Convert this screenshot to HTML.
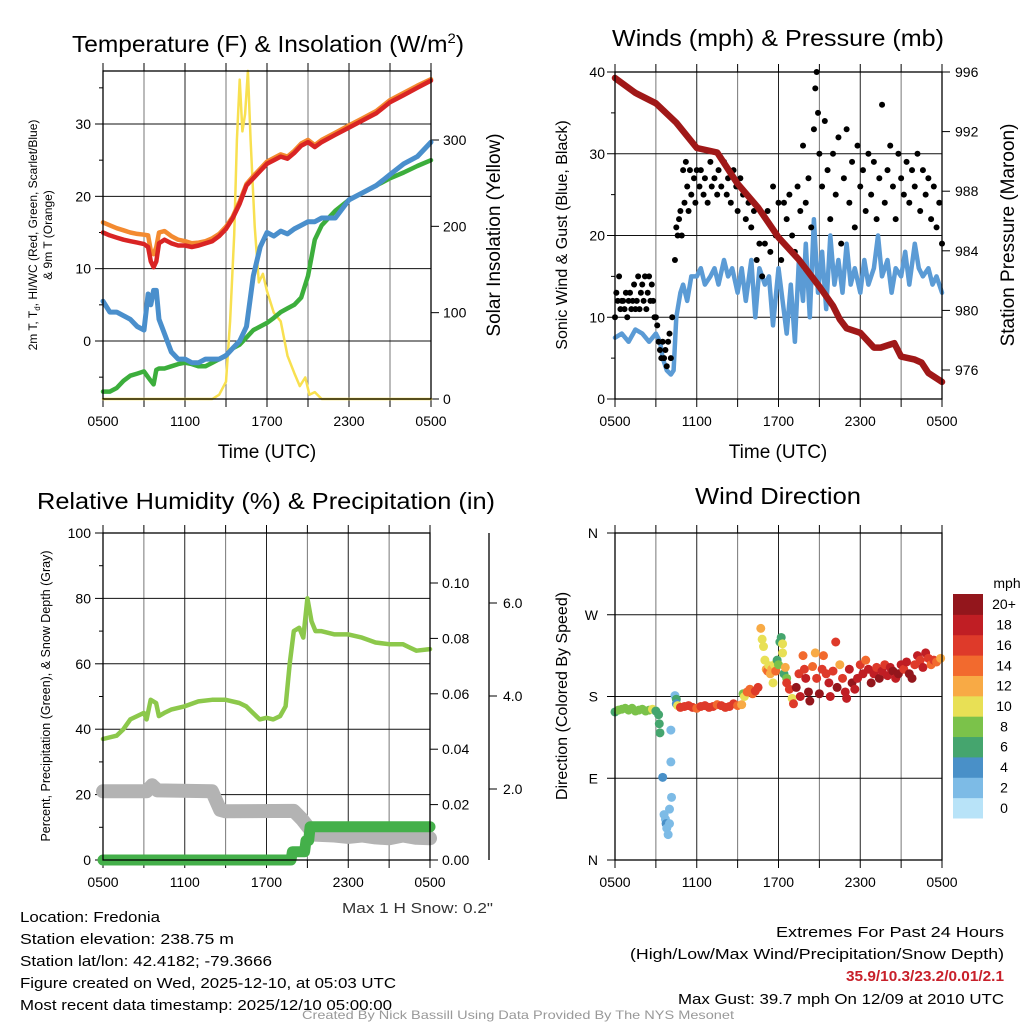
<!DOCTYPE html>
<html><head><meta charset="utf-8"><style>
html,body{margin:0;padding:0;background:#fff;}
svg{display:block;font-family:"Liberation Sans",Arial,sans-serif;}
</style></head><body>
<svg id="s" width="1024" height="1024" viewBox="0 0 1024 1024" xmlns="http://www.w3.org/2000/svg">
<rect width="1024" height="1024" fill="#fff"/>
<g id="g1"></g>
<g id="g2"></g>
<g id="g3"></g>
<g id="g4"></g>

<text x="268" y="52" font-size="23" text-anchor="middle" textLength="392" lengthAdjust="spacingAndGlyphs">Temperature (F) &amp; Insolation (W/m<tspan font-size="14" dy="-9">2</tspan><tspan dy="9">)</tspan></text>
<text x="778" y="46" font-size="23" text-anchor="middle" textLength="332" lengthAdjust="spacingAndGlyphs">Winds (mph) &amp; Pressure (mb)</text>
<text x="266" y="509" font-size="23" text-anchor="middle" textLength="458" lengthAdjust="spacingAndGlyphs">Relative Humidity (%) &amp; Precipitation (in)</text>
<text x="778" y="504" font-size="23" text-anchor="middle" textLength="166" lengthAdjust="spacingAndGlyphs">Wind Direction</text>

<text transform="translate(37,235) rotate(-90)" font-size="12" text-anchor="middle">2m T, T<tspan font-size="8" dy="3">d</tspan><tspan dy="-3">, HI/WC (Red, Green, Scarlet/Blue)</tspan></text>
<text transform="translate(52,235) rotate(-90)" font-size="12" text-anchor="middle">&amp; 9m T (Orange)</text>
<text transform="translate(500,235) rotate(-90)" font-size="19" text-anchor="middle">Solar Insolation (Yellow)</text>
<text x="267" y="458" font-size="19" text-anchor="middle">Time (UTC)</text>
<text transform="translate(567,235) rotate(-90)" font-size="16" text-anchor="middle">Sonic Wind &amp; Gust (Blue, Black)</text>
<text transform="translate(1014,235) rotate(-90)" font-size="19" text-anchor="middle">Station Pressure (Maroon)</text>
<text x="778" y="458" font-size="19" text-anchor="middle">Time (UTC)</text>
<text transform="translate(50,696) rotate(-90)" font-size="12.5" text-anchor="middle">Percent, Precipitation (Green), &amp; Snow Depth (Gray)</text>
<text transform="translate(567,696) rotate(-90)" font-size="16" text-anchor="middle">Direction (Colored By Speed)</text>
<text x="493" y="913" font-size="14.5" text-anchor="end" fill="#333" textLength="151" lengthAdjust="spacingAndGlyphs">Max 1 H Snow: 0.2"</text>

<g font-size="15">
<text x="20" y="922" textLength="140" lengthAdjust="spacingAndGlyphs">Location: Fredonia</text>
<text x="20" y="944" textLength="214" lengthAdjust="spacingAndGlyphs">Station elevation: 238.75 m</text>
<text x="20" y="966" textLength="252" lengthAdjust="spacingAndGlyphs">Station lat/lon: 42.4182; -79.3666</text>
<text x="20" y="988" textLength="376" lengthAdjust="spacingAndGlyphs">Figure created on Wed, 2025-12-10, at 05:03 UTC</text>
<text x="20" y="1010" textLength="372" lengthAdjust="spacingAndGlyphs">Most recent data timestamp: 2025/12/10 05:00:00</text>
</g>
<g font-size="15" text-anchor="end">
<text x="1004" y="937" textLength="228" lengthAdjust="spacingAndGlyphs">Extremes For Past 24 Hours</text>
<text x="1004" y="959" textLength="374" lengthAdjust="spacingAndGlyphs">(High/Low/Max Wind/Precipitation/Snow Depth)</text>
<text x="1004" y="981" fill="#c8202a" font-weight="bold" textLength="158" lengthAdjust="spacingAndGlyphs">35.9/10.3/23.2/0.01/2.1</text>
<text x="1004" y="1004" textLength="326" lengthAdjust="spacingAndGlyphs">Max Gust: 39.7 mph On 12/09 at 2010 UTC</text>
</g>
<text x="518" y="1019" font-size="12" fill="#999" text-anchor="middle" textLength="432" lengthAdjust="spacingAndGlyphs">Created By Nick Bassill Using Data Provided By The NYS Mesonet</text>
</svg>
<script>
// ---------- data ----------
const timeTicks = ["0500","1100","1700","2300","0500"];
// Panel 1
const tempH = [0,0.5,1,1.5,2,2.5,3,3.3,3.5,3.7,3.9,4.1,4.5,5,5.5,6,6.5,7,7.5,8,8.5,9,9.5,10,10.5,11,11.5,12,12.5,13,13.5,14,14.5,15,15.5,16,17,18,19,20,21,22,23,24];
const tempRed = [15,14.6,14.3,14,13.8,13.6,13.4,13,11,10.2,11,13.5,14,13.5,13.2,13.2,13,13.2,13.5,13.8,14.5,15.5,17,19,21.5,22.5,23.5,24.5,25,25.5,25.2,26,27,27.5,26.8,27.5,28.5,29.5,30.5,31.5,33,34,35,36];
const temp9m = [16.4,16,15.6,15.3,15,14.8,14.7,14.6,12.5,12,13,15,15.2,14.5,14,13.8,13.5,13.6,13.8,14.2,14.8,15.8,17.2,19.3,21.7,22.8,23.8,24.8,25.3,25.8,25.5,26.3,27.3,27.8,27.1,27.8,28.8,29.8,30.8,31.8,33.3,34.3,35.3,36.2];
const tempHI = [5.5,4,4,3.5,3,2,1.5,6.5,5,7,7,3,1,-1.5,-2.5,-2.5,-3,-3,-2.5,-2.5,-2.5,-2,-1,0,2,9,13,15,14.5,15.2,14.8,15.5,16,16.5,16.5,17,17,19.5,20.5,21.5,23,24.5,25.5,27.5];
const tempTd = [-7,-7,-6.5,-5.5,-4.8,-4.5,-4.2,-5,-5.5,-6,-4,-3.8,-3.8,-3.5,-3.2,-3,-3.2,-3.5,-3.5,-3,-2.5,-2,-1,-0.5,0.5,1.5,2,2.5,3.2,4,4.5,5,6,9,14,16,18,19.5,20.5,21.5,22.5,23.3,24.2,25];
const solarH = [0,8,8.5,9,9.3,9.6,9.8,10,10.2,10.4,10.6,10.8,11.1,11.4,11.7,12,12.5,13,13.5,14,14.4,14.8,15.1,15.5,16,24];
const solarV = [0,0,5,20,90,190,300,370,310,330,380,300,200,135,145,125,100,90,50,30,15,25,5,8,0,0];
// Panel 2
const presH = [0,1.5,3,4.5,6,7.5,9,10.5,12,13.5,15,16,16.5,17,18,19,19.5,20.5,21,22,22.5,23,24];
const presV = [995.6,994.6,993.9,992.6,990.9,990.6,988.5,986.9,984.9,983.4,981.6,980.3,979.4,978.8,978.5,977.5,977.5,977.8,976.9,976.7,976.5,975.8,975.2];
const windH = [0,0.5,1,1.5,2,2.5,3,3.3,3.5,3.8,4.1,4.3,4.5,4.8,5,5.3,5.6,6,6.3,6.6,7,7.3,7.6,8,8.3,8.6,9,9.3,9.6,10,10.3,10.6,11,11.3,11.6,12,12.3,12.6,12.9,13.2,13.5,13.8,14,14.3,14.6,14.9,15.2,15.5,15.8,16.1,16.4,16.7,17,17.3,17.6,18,18.3,18.6,19,19.3,19.6,20,20.3,20.6,21,21.3,21.6,22,22.3,22.6,23,23.3,23.6,24];
const windV = [7.5,8,7,8.5,8,7,8,7,5,3.5,3,3.5,10,13,14,12,15,15,16,14,15,16,14,17,15,16,13,16,12,17,10,16,14,15,9,16,12,8,14,7,17,12,19,10,22,13,18,11,20,14,17,13,19,14,16,13,17,14,16,20,15,17,13,16,15,18,14,19,16,15,16,14,15,13];
const gustH = [0,0.1,0.2,0.3,0.4,0.5,0.6,0.7,0.8,0.9,1,1.1,1.2,1.3,1.4,1.5,1.6,1.7,1.8,1.9,2,2.1,2.2,2.3,2.4,2.5,2.6,2.7,2.8,2.9,3,3.1,3.2,3.3,3.4,3.5,3.6,3.7,3.8,3.9,4,4.1,4.2,4.4,4.5,4.6,4.7,4.8,4.9,5,5.1,5.2,5.3,5.4,5.5,5.6,5.8,5.9,6,6.2,6.3,6.5,6.6,6.8,7,7.1,7.3,7.5,7.6,7.8,8,8.2,8.3,8.5,8.7,8.9,9,9.2,9.4,9.6,9.8,10,10.2,10.4,10.6,10.8,11,11.2,11.4,11.6,11.8,12,12.2,12.4,12.6,12.8,13,13.2,13.4,13.6,13.8,14,14.2,14.4,14.6,14.7,14.8,14.9,15,15.2,15.4,15.6,15.8,16,16.2,16.4,16.6,16.8,17,17.2,17.4,17.6,17.8,18,18.2,18.4,18.6,18.8,19,19.2,19.4,19.6,19.8,20,20.2,20.4,20.6,20.8,21,21.2,21.4,21.6,21.8,22,22.2,22.4,22.6,22.8,23,23.2,23.4,23.6,23.8,24];
const gustV = [10,13,12,15,11,12,12,11,13,10,12,13,11,12,14,11,12,15,11,13,14,12,15,11,13,15,12,14,12,10,10,9,7,6,5,7,5,6,4,7,8,5,10,17,21,20,22,23,20,28,24,29,26,23,28,25,27,24,28,26,28,25,27,24,29,26,27,25,28,26,29,25,27,24,28,26,23,27,25,22,24,21,23,17,19,15,19,23,18,26,20,24,17,24,22,25,20,18,26,23,31,24,27,21,33,38,40,35,30,26,34,28,22,30,25,32,19,27,33,24,29,21,31,26,28,23,30,25,29,22,27,36,24,28,31,26,22,30,27,25,29,24,28,26,30,23,28,25,27,22,26,21,24,19];
// Panel 3
const rhH = [0,1,1.5,2,3,3.2,3.5,3.9,4.1,4.5,5,6,7,8,9,10,10.5,11,11.5,12,12.5,13,13.4,13.7,14,14.4,14.7,15,15.3,15.6,16,17,18,19,20,21,22,22.5,23,24];
const rhV = [37,38,40,43,45,43,49,48,44,45,46,47,48.5,49,49,48,47,45,43,43.5,43,44,47,60,70,71,68,80,73,70,70,69,69,68,66.5,66,66,65,64,64.5];
const precipH = [0,13.8,13.9,14.8,14.9,15.1,15.2,24];
const precipV = [0,0,0.003,0.003,0.007,0.007,0.012,0.012];
const snowH = [0,3.2,3.6,4.0,8.0,8.6,9.0,14.0,14.6,15.0,15.5,17,18,19,20,21,22,23,24];
const snowV = [1.95,1.95,2.08,1.97,1.95,1.55,1.52,1.53,1.35,1.2,1.02,1.0,0.97,1.0,0.96,0.94,1.0,0.95,0.94];
// Panel 4
const dirH = [0,0.25,0.5,0.75,1,1.25,1.5,1.75,2,2.25,2.5,2.75,3,3.2,3.25,3.3,3.5,3.6,3.7,3.75,3.8,3.9,4,4,4.1,4.1,4.15,4.4,4.5,4.5,4.6,4.8,5.1,5.4,5.7,6,6.3,6.6,6.9,7.2,7.5,7.8,8.1,8.4,8.7,9,9.3,9.4,9.5,9.7,9.9,10.1,10.3,10.5,10.7,10.8,10.9,11,11.1,11.2,11.3,11.4,11.5,11.6,11.7,11.8,11.9,12,12.1,12.2,12.3,12.3,12.4,12.5,12.6,12.6,12.8,13,13.1,13.3,13.5,13.6,13.8,13.9,14,14.2,14.3,14.5,14.7,14.8,15,15.2,15.3,15.5,15.7,15.8,16,16.2,16.3,16.5,16.7,16.9,17,17.2,17.4,17.6,17.8,18,18.2,18.4,18.6,18.8,19,19.2,19.4,19.6,19.8,20,20.2,20.4,20.6,20.8,21,21.2,21.4,21.6,21.8,22,22.2,22.4,22.6,22.8,23,23.2,23.4,23.6,23.9];
const dirDeg = [163,165,166,167,165,167,164,165,166,164,165,166,164,160,150,140,91,50,45,40,35,28,56,40,143,108,69,181,177,172,170,168,169,170,168,167,169,170,168,169,171,170,168,169,172,170,171,183,180,185,188,183,186,190,255,243,235,220,210,208,214,205,210,195,215,208,220,215,240,245,238,228,205,212,200,195,188,178,172,190,205,180,225,210,200,185,175,213,228,200,183,210,225,205,195,180,208,240,190,215,200,185,178,210,195,188,200,215,205,220,210,195,205,212,200,208,215,203,212,208,200,205,215,210,218,205,200,215,225,220,212,228,222,215,220,218,222];
const dirSpd = [7,8,8,8,8,8,8,8,8,8,9,10,7,6,6,6,4,2,2,4,2,2,2,2,2,2,2,2,6,5,10,16,16,17,16,15,16,17,16,16,15,17,16,16,17,14,12,8,10,14,14,15,16,17,12,10,10,10,12,14,10,12,12,10,10,14,6,8,6,6,10,10,6,12,8,16,16,10,16,20,16,18,14,16,18,20,20,14,12,16,20,16,14,16,18,18,16,16,20,12,16,18,18,18,20,18,18,16,18,14,18,20,18,16,20,18,16,18,18,20,18,20,18,16,18,20,20,16,18,16,18,18,16,14,16,14,12];
const dirTicks = ["N","E","S","W","N"];
const speedBins = ["0","2","4","6","8","10","12","14","16","18","20+"];
const binColors = ["#b8e3f8","#7dbbe6","#4990c8","#45a56e","#7bc24a","#e8e055","#f8aa45","#f26a2e","#de3a2a","#c01e24","#93161c"];

// ---------- helpers ----------
const NS="http://www.w3.org/2000/svg";
function mk(tag,attrs,parent){const e=document.createElementNS(NS,tag);for(const k in attrs)e.setAttribute(k,attrs[k]);parent.appendChild(e);return e;}
function lin(d0,d1,r0,r1){return v=>r0+(v-d0)*(r1-r0)/(d1-d0);}
function pathFrom(xs,ys,fx,fy){return xs.map((h,i)=>(i?'L':'M')+fx(h).toFixed(1)+' '+fy(ys[i]).toFixed(1)).join(' ');}

function frame(g,L,R,T,B,fx){
  for(let h=3;h<24;h+=3){
    const l=mk('line',{x1:fx(h),x2:fx(h),y1:T,y2:B,stroke:(h%6?'#777':'#222'),'stroke-width':1},g);
    
    
  }
  for(let h=0;h<=24;h+=3){
    mk('line',{x1:fx(h),x2:fx(h),y1:B,y2:B+8,stroke:'#000'},g);
    mk('line',{x1:fx(h),x2:fx(h),y1:T,y2:T-8,stroke:'#000'},g);
  }
  timeTicks.forEach((t,i)=>{
    const tx=mk('text',{x:fx(i*6),y:B+27,'font-size':14,'text-anchor':'middle'},g);
    tx.textContent=t;
    
    
  });
}
function hgrid(g,L,R,y){const l=mk('line',{x1:L,x2:R,y1:y,y2:y,stroke:'#111'},g);
  
  }
function box(g,L,R,T,B){const r=mk('rect',{x:L,y:T,width:R-L,height:B-T,fill:'none',stroke:'#000','stroke-width':1.3},g);
  
  }
function ylabels(g,vals,fy,x,anchor,fmt,size){
  vals.forEach(v=>{const t=mk('text',{x:x,y:fy(v)+5,'font-size':size||14,'text-anchor':anchor},g);t.textContent=fmt(v);
    
    });
}
function ticks(g,vals,fy,x,len){vals.forEach(v=>mk('line',{x1:x,x2:x+len,y1:fy(v),y2:fy(v),stroke:'#000'},g));}
function line(g,xs,ys,fx,fy,color,w,name){
  const p=mk('path',{d:pathFrom(xs,ys,fx,fy),fill:'none',stroke:color,'stroke-width':w,'stroke-linejoin':'round','stroke-linecap':'round'},g);
  
  
}

// ---------- Panel 1 ----------
(function(){
  const g=document.getElementById('g1');
  const L=103,R=431,T=71,B=399;
  const fx=lin(0,24,L,R), fy=lin(0,30,341,124), fs=lin(0,300,399,140);
  frame(g,L,R,T,B,fx);
  [0,10,20,30].forEach(v=>hgrid(g,L,R,fy(v)));
  ticks(g,[0,10,20,30],fy,L,-8); ticks(g,[-5,5,15,25,35],fy,L,-4);
  ylabels(g,[0,10,20,30],fy,L-12,'end',v=>String(v));
  ticks(g,[0,100,200,300],fs,R,8);
  ylabels(g,[0,100,200,300],fs,R+12,'start',v=>String(v));
  line(g,solarH,solarV,fx,fs,'#f8e050',2.5,'solar-insolation-line');
  line(g,tempH,tempTd,fx,fy,'#3cae3c',4.5,'dewpoint-line');
  line(g,tempH,tempHI,fx,fy,'#4a8fcc',5,'wind-chill-line');
  line(g,tempH,temp9m,fx,fy,'#f38a30',4.5,'temp-9m-line');
  line(g,tempH,tempRed,fx,fy,'#d92424',4.5,'temp-2m-line');
  box(g,L,R,T,B);
})();

// ---------- Panel 2 ----------
(function(){
  const g=document.getElementById('g2');
  const L=615,R=942,T=72,B=399;
  const fx=lin(0,24,L,R), fy=lin(0,40,B,T), fp=lin(976,996,370,72);
  frame(g,L,R,T,B,fx);
  [10,20,30].forEach(v=>hgrid(g,L,R,fy(v)));
  ticks(g,[0,10,20,30,40],fy,L,-8); ticks(g,[5,15,25,35],fy,L,-4);
  ylabels(g,[0,10,20,30,40],fy,L-10,'end',v=>String(v));
  ticks(g,[976,980,984,988,992,996],fp,R,8);
  ylabels(g,[976,980,984,988,992,996],fp,R+13,'start',v=>String(v));
  line(g,windH,windV,fx,fy,'#5b9bd5',4.5,'sonic-wind-line');
  gustH.forEach((h,i)=>{
    const c=mk('circle',{cx:fx(h),cy:fy(gustV[i]),r:3,fill:'#000'},g);
    
    
  });
  line(g,presH,presV,fx,fp,'#a01818',6.5,'pressure-line');
  box(g,L,R,T,B);
})();

// ---------- Panel 3 ----------
(function(){
  const g=document.getElementById('g3');
  const L=103,R=430,T=533,B=860;
  const fx=lin(0,24,L,R), fy=lin(0,100,B,T), fpr=lin(0,0.10,B,583), fsn=lin(2,4,789,696);
  frame(g,L,R,T,B,fx);
  [20,40,60,80].forEach(v=>hgrid(g,L,R,fy(v)));
  ticks(g,[0,20,40,60,80,100],fy,L,-8); ticks(g,[10,30,50,70,90],fy,L,-4);
  ylabels(g,[0,20,40,60,80,100],fy,L-12,'end',v=>String(v));
  ticks(g,[0,0.02,0.04,0.06,0.08,0.10],fpr,R,8);
  ylabels(g,[0,0.02,0.04,0.06,0.08,0.10],fpr,R+12,'start',v=>v.toFixed(2));
  mk('line',{x1:489,x2:489,y1:T,y2:B,stroke:'#000','stroke-width':1.3},g);
  ticks(g,[2,4,6],fsn,489,8);
  ylabels(g,[2,4,6],fsn,503,'start',v=>v.toFixed(1));
  line(g,snowH,snowV,fx,fsn,'#b3b3b3',14,'snow-depth-line');
  line(g,precipH,precipV,fx,fpr,'#44b04a',11,'precipitation-line');
  line(g,rhH,rhV,fx,fy,'#8cc84b',4.5,'relative-humidity-line');
  box(g,L,R,T,B);
})();

// ---------- Panel 4 ----------
(function(){
  const g=document.getElementById('g4');
  const L=615,R=942,T=533,B=860;
  const fx=lin(0,24,L,R), fy=lin(0,360,B,T);
  frame(g,L,R,T,B,fx);
  [90,180,270].forEach(v=>hgrid(g,L,R,fy(v)));
  ticks(g,[0,90,180,270,360],fy,L,-8);
  dirTicks.forEach((t,i)=>{const tx=mk('text',{x:L-17,y:fy(i*90)+5,'font-size':14,'text-anchor':'end'},g);tx.textContent=t;
    
    });
  dirH.forEach((h,i)=>{
    const b=Math.min(10,Math.floor(dirSpd[i]/2));
    const c=mk('circle',{cx:fx(h),cy:fy(dirDeg[i]),r:4.5,fill:binColors[b]},g);
    
    
  });
  box(g,L,R,T,B);
  const cbT=594,cbH=224/11;
  speedBins.forEach((lab,i)=>{
    const y=cbT+(10-i)*cbH;
    const r=mk('rect',{x:953,y:y,width:30,height:cbH+0.5,fill:binColors[i]},g);
    
    
    const t=mk('text',{x:1004,y:y+cbH/2+5,'font-size':14,'text-anchor':'middle'},g);
    t.textContent=lab;
    
    
  });
  const u=mk('text',{x:1007,y:588,'font-size':14,'text-anchor':'middle'},g);
  u.textContent='mph';
  
  
})();
</script>
</body></html>
